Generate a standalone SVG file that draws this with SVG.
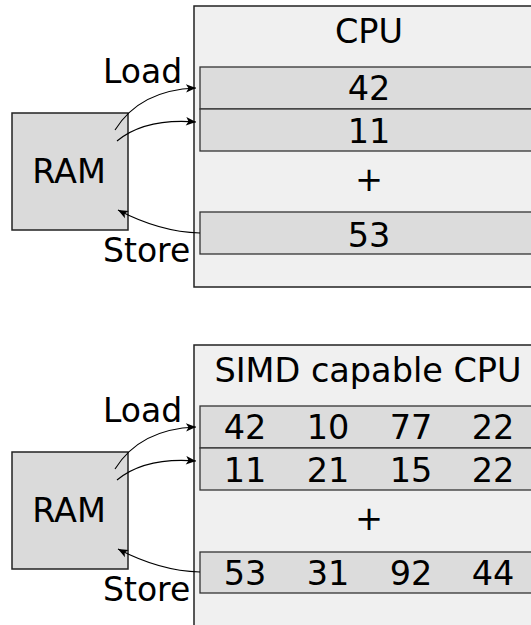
<svg xmlns="http://www.w3.org/2000/svg" width="531" height="625" viewBox="0 0 531 625">
<style>
text{font-family:"DejaVu Sans","Liberation Sans",sans-serif;fill:#000}
.t{font-size:33.5px;text-anchor:middle}
.lbl{font-size:33px}
.cpu{fill:#f0f0f0;stroke:#222;stroke-width:1.5}
.reg{fill:#dcdcdc;stroke:#333;stroke-width:1.3}
.ram{fill:#dadada;stroke:#222;stroke-width:1.5}
.c{fill:none;stroke:#000;stroke-width:1.1}
</style>
<defs>
<marker id="ah" markerWidth="14" markerHeight="12" refX="0" refY="0" viewBox="-11 -6 14 12" orient="auto" markerUnits="userSpaceOnUse">
<path d="M0,0 L-10,-4.2 L-7.5,0 L-10,4.2 Z" fill="#000"/>
</marker>
</defs>
<g id="cpu1">
<rect class="cpu" x="194" y="6" width="360" height="281"/>
<text class="t" x="369" y="43">CPU</text>
</g>
<g id="cpu1-reg-a"><rect class="reg" x="200" y="67" width="360" height="42"/><text class="t" x="369" y="100">42</text></g>
<g id="cpu1-reg-b"><rect class="reg" x="200" y="109" width="360" height="42"/><text class="t" x="369" y="143">11</text></g>
<g id="cpu1-op"><text class="t" x="369" y="191">+</text></g>
<g id="cpu1-reg-c"><rect class="reg" x="200" y="212" width="360" height="42"/><text class="t" x="369" y="247">53</text></g>
<g id="ram1">
<rect class="ram" x="12" y="113" width="116" height="117"/>
<text class="t" x="69" y="183">RAM</text>
</g>
<g id="labels1">
<text class="lbl" x="103" y="83">Load</text>
<text class="lbl" x="103" y="262">Store</text>
</g>
<g id="cpu2">
<rect class="cpu" x="194" y="345" width="360" height="300"/>
<text class="t" x="368" y="382">SIMD capable CPU</text>
</g>
<g id="cpu2-reg-a"><rect class="reg" x="200" y="406" width="360" height="42"/>
<text class="t" x="245" y="439">42</text><text class="t" x="328" y="439">10</text><text class="t" x="411" y="439">77</text><text class="t" x="493" y="439">22</text></g>
<g id="cpu2-reg-b"><rect class="reg" x="200" y="448" width="360" height="42"/>
<text class="t" x="245" y="482">11</text><text class="t" x="328" y="482">21</text><text class="t" x="411" y="482">15</text><text class="t" x="493" y="482">22</text></g>
<g id="cpu2-op"><text class="t" x="369" y="530">+</text></g>
<g id="cpu2-reg-c"><rect class="reg" x="200" y="552" width="360" height="41"/>
<text class="t" x="245" y="585">53</text><text class="t" x="328" y="585">31</text><text class="t" x="411" y="585">92</text><text class="t" x="493" y="585">44</text></g>
<g id="ram2">
<rect class="ram" x="12" y="452" width="116" height="117"/>
<text class="t" x="69" y="522">RAM</text>
</g>
<g id="labels2">
<text class="lbl" x="103" y="422">Load</text>
<text class="lbl" x="103" y="601">Store</text>
</g>
<g id="connectors">
<path class="c" d="M115,130 Q140,90 196,88" marker-end="url(#ah)"/>
<path class="c" d="M117,141 Q145,118 196,122" marker-end="url(#ah)"/>
<path class="c" d="M200,233 Q160,232 118,210" marker-end="url(#ah)"/>
<path class="c" d="M115,469 Q140,429 196,427" marker-end="url(#ah)"/>
<path class="c" d="M117,480 Q145,457 196,461" marker-end="url(#ah)"/>
<path class="c" d="M200,572 Q160,571 118,549" marker-end="url(#ah)"/>
</g>
</svg>
